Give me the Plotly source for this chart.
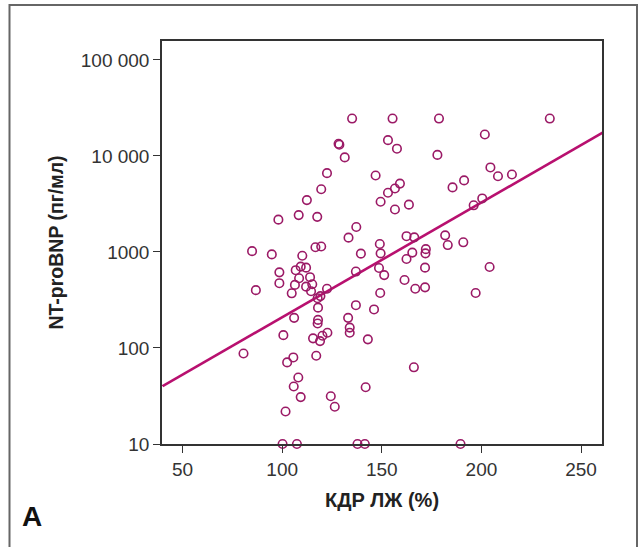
import numpy as np
import plotly.graph_objects as go

# LV end-diastolic dimension (% of norm) and NT-proBNP (pg/ml)
kdr = [135.1, 155.4, 178.7, 234.3, 201.7, 153.1, 128.3, 128.7, 157.6, 177.9,
       131.4, 122.5, 146.9, 204.5, 208.3, 215.3, 191.3, 185.5, 159.1, 156.6,
       153.1, 119.6, 149.4, 112.4, 163.6, 196.1, 200.4, 156.6, 108.3, 117.6,
       98.1, 137.2, 133.3, 162.4, 166.3, 181.8, 183.1, 190.9, 149.0, 116.7,
       119.6, 84.9, 94.8, 110.1, 139.5, 149.4, 165.3, 172.1, 171.9, 162.4,
       109.3, 112.0, 106.8, 98.6, 137.0, 148.6, 171.7, 204.1, 151.2, 108.5,
       114.0, 98.6, 106.4, 115.1, 112.0, 114.5, 86.8, 122.5, 161.4, 166.8,
       171.7, 104.8, 119.2, 117.8, 149.2, 197.1, 137.0, 118.0, 146.1, 106.0,
       133.1, 118.0, 117.8, 133.9, 133.9, 100.6, 122.7, 120.2, 115.5, 119.0,
       143.0, 80.6, 105.6, 117.1, 102.5, 166.1, 108.1, 105.8, 141.9, 109.3,
       124.4, 126.4, 101.7, 100.2, 107.4, 137.8, 141.5, 189.5]
ntprobnp = [24500, 24500, 24500, 24500, 16700, 14600, 13400, 13100, 11900, 10250,
            9660, 6620, 6250, 7590, 6140, 6410, 5560, 4700, 5150, 4580,
            4140, 4500, 3330, 3470, 3110, 3060, 3610, 2770, 2420, 2320,
            2170, 1820, 1410, 1460, 1420, 1490, 1180, 1260, 1210, 1120,
            1140, 1020, 943, 912, 960, 967, 984, 1070, 967, 845,
            703, 686, 646, 613, 625, 680, 686, 697, 574, 532,
            546, 473, 454, 461, 435, 390, 400, 414, 511, 414,
            428, 371, 347, 330, 374, 374, 279, 263, 252, 206,
            206, 196, 180, 163, 144, 136, 144, 134, 126, 118,
            123, 87.5, 79.7, 83.1, 70.8, 62.9, 49.3, 39.7, 39.0, 30.8,
            31.4, 24.4, 21.8, 10, 10, 10, 10, 10]

# regression line end points
line_x = [40, 261]
line_y = [40, 17570]

x_ticks = [50, 100, 150, 200, 250]
y_ticks = [10, 100, 1000, 10000, 100000]
y_ticktext = ["10", "100", "1000", "10 000", "100 000"]

FONT = "Liberation Sans, Arial, Helvetica, sans-serif"

fig = go.Figure()
fig.add_trace(go.Scatter(
    x=line_x, y=line_y, mode="lines",
    line=dict(color="#b8106f", width=2.6),
    hoverinfo="skip", showlegend=False, cliponaxis=True))
fig.add_trace(go.Scatter(
    x=kdr, y=ntprobnp, mode="markers",
    marker=dict(symbol="circle-open", size=8.5, color="#9b1a66",
                line=dict(width=1.6, color="#9b1a66")),
    showlegend=False, cliponaxis=False))

fig.update_layout(
    width=644, height=547,
    margin=dict(l=162, r=42, t=41, b=103),
    paper_bgcolor="white", plot_bgcolor="white",
    font=dict(family=FONT, color="#222"),
    xaxis=dict(
        range=[39.7, 260.5], tickvals=x_ticks,
        ticks="outside", ticklen=7, tickwidth=1.3, tickcolor="#333",
        showline=True, linecolor="#333", linewidth=1.5, mirror=True,
        showgrid=False, zeroline=False,
        tickfont=dict(size=19, color="#333", family=FONT),
        title=dict(text="<b>КДР ЛЖ (%)</b>", font=dict(size=20, color="#222", family=FONT),
                   standoff=14),
    ),
    yaxis=dict(
        type="log", range=[1, 5.197], tickvals=y_ticks, ticktext=y_ticktext,
        ticks="outside", ticklen=7, tickwidth=1.3, tickcolor="#333",
        showline=True, linecolor="#333", linewidth=1.5, mirror=True,
        showgrid=False, zeroline=False,
        tickfont=dict(size=19, color="#333", family=FONT),
        title=dict(text="<b>NT-proBNP (пг/мл)</b>", font=dict(size=19.5, color="#222", family=FONT),
                   standoff=12),
    ),
    shapes=[dict(type="rect", xref="paper", yref="paper",
                 x0=(9.5 - 162) / 440, x1=(637 - 162) / 440,
                 y0=-0.4, y1=(444 - 5) / 403,
                 line=dict(color="#666", width=2), layer="below")],
    annotations=[dict(text="<b>A</b>", xref="paper", yref="paper",
                      x=(32 - 162) / 440, y=(444 - 516) / 403,
                      xanchor="center", yanchor="middle", showarrow=False,
                      font=dict(size=28, color="#111", family=FONT))],
)

fig.write_html("out.html")
